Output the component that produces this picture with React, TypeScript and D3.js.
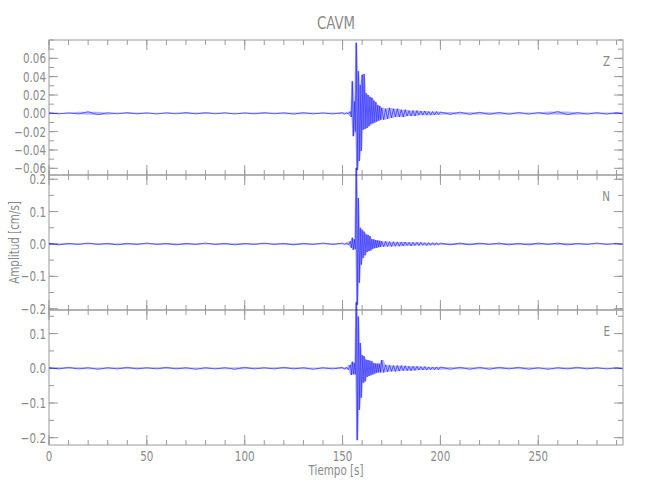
import React from 'react';
import * as d3 from 'd3';

// station + component names
const title = 'CAVM';
const componentNames = ['Z', 'N', 'E'];

// sample grid (s): coarse before the event, fine around it
const sampleTimes = [
  ...d3.range(0, 150, 5),
  ...d3.range(150, 154, 1),
  ...d3.range(154, 170, 0.5),
  ...d3.range(170, 200, 1),
  ...d3.range(200, 295, 5),
  293,
];

// velocity extremes, cm/s
const zValues = [
  0.0005, -0.0007, 0.0006, -0.0008, 0.0018, -0.0015, 0.0007, -0.0006, 0.0008, -0.0007,
  0.0006, -0.0008, 0.0007, -0.0006, 0.0009, -0.0007, 0.0008, -0.0006, 0.0007, -0.0008,
  0.0006, -0.0007, 0.0008, -0.0006, 0.0007, -0.0009, 0.0008, -0.0007, 0.0006, -0.0008,
  0.0008, -0.0009, 0.0007, -0.001,
  0.002, -0.004, 0.035, -0.025, 0.013, -0.02, 0.077, -0.062, 0.046, -0.052,
  0.031, -0.041, 0.042, -0.018, 0.043, -0.017, 0.022, -0.016, 0.02, -0.014,
  0.018, -0.012, 0.017, -0.011, 0.014, -0.01, 0.012, -0.009, 0.009, -0.008,
  0.008, -0.007,
  0.006, -0.007, 0.005, -0.006, 0.006, -0.005, 0.005, -0.004, 0.005, -0.004,
  0.004, -0.004, 0.004, -0.003, 0.003, -0.003, 0.003, -0.003, 0.003, -0.002,
  0.0025, -0.002, 0.0025, -0.002, 0.002, -0.002, 0.002, -0.0018, 0.002, -0.0015,
  0.0015, -0.0012, 0.0013, -0.0012, 0.0011, -0.0012, 0.001, -0.0011, 0.001, -0.001,
  0.0009, -0.001, 0.002, -0.0016, 0.0009, -0.0009, 0.0008, -0.0009, 0.0008, -0.0007,
];

const nValues = [
  0.002, -0.003, 0.002, -0.002, 0.003, -0.002, 0.002, -0.003, 0.002, -0.002,
  0.003, -0.002, 0.002, -0.003, 0.002, -0.002, 0.003, -0.002, 0.002, -0.003,
  0.002, -0.002, 0.003, -0.002, 0.002, -0.003, 0.002, -0.002, 0.003, -0.002,
  0.003, -0.002, 0.003, -0.003,
  0.008, -0.012, 0.019, -0.018, 0.014, -0.016, 0.235, -0.188, 0.142, -0.12,
  0.05, -0.064, 0.044, -0.043, 0.038, -0.035, 0.03, -0.025, 0.028, -0.022,
  0.024, -0.02, 0.015, -0.015, 0.014, -0.013, 0.012, -0.012, 0.011, -0.01,
  0.01, -0.009,
  0.008, -0.009, 0.008, -0.008, 0.007, -0.008, 0.007, -0.007, 0.006, -0.007,
  0.006, -0.006, 0.006, -0.005, 0.005, -0.006, 0.005, -0.005, 0.005, -0.005,
  0.005, -0.004, 0.004, -0.005, 0.004, -0.004, 0.004, -0.004, 0.004, -0.003,
  0.003, -0.003, 0.003, -0.003, 0.003, -0.002, 0.003, -0.003, 0.002, -0.003,
  0.003, -0.002, 0.003, -0.003, 0.002, -0.002, 0.003, -0.002, 0.002, -0.002,
];

const eValues = [
  0.002, -0.002, 0.003, -0.002, 0.002, -0.003, 0.002, -0.002, 0.003, -0.002,
  0.002, -0.002, 0.003, -0.002, 0.002, -0.003, 0.002, -0.002, 0.002, -0.003,
  0.003, -0.002, 0.002, -0.002, 0.003, -0.002, 0.002, -0.003, 0.002, -0.002,
  0.003, -0.003, 0.003, -0.004,
  0.01, -0.019, 0.019, -0.017, 0.016, -0.018, 0.19, -0.207, 0.149, -0.12,
  0.073, -0.085, 0.038, -0.042, 0.035, -0.038, 0.025, -0.025, 0.024, -0.022,
  0.022, -0.02, 0.02, -0.018, 0.015, -0.015, 0.014, -0.013, 0.014, -0.012,
  0.013, -0.012,
  0.024, -0.012, 0.01, -0.01, 0.009, -0.009, 0.008, -0.009, 0.008, -0.008,
  0.008, -0.007, 0.007, -0.007, 0.006, -0.007, 0.006, -0.006, 0.006, -0.005,
  0.005, -0.005, 0.005, -0.005, 0.004, -0.004, 0.004, -0.004, 0.004, -0.004,
  0.004, -0.003, 0.003, -0.003, 0.003, -0.003, 0.003, -0.002, 0.003, -0.003,
  0.002, -0.003, 0.002, -0.002, 0.003, -0.002, 0.002, -0.002, 0.002, -0.002,
];

const seriesValues = [zValues, nValues, eValues];

// y ranges and ticks per panel
const yDomains: [number, number][] = [[-0.0673, 0.08], [-0.204, 0.213], [-0.221, 0.168]];
const yMajorTicks = [
  [-0.06, -0.04, -0.02, 0, 0.02, 0.04, 0.06],
  [-0.2, -0.1, 0, 0.1, 0.2],
  [-0.2, -0.1, 0, 0.1],
];
const yMinorStep = [0.01, 0.05, 0.05];
const yTickFormat = ['.2f', '.1f', '.1f'];

const xMax = 293.3;
const xMajorTicks = [0, 50, 100, 150, 200, 250];
const xMinorStep = 10;

const W = 650;
const H = 500;
const left = 49;
const right = 623;
const panelTop = 40;
const panelH = 135;

const axisColor = '#9a9a9a';
const textColor = '#8a8a8a';
const font = '"DejaVu Sans", sans-serif';

const fmtNum = (f: string) => {
  const base = d3.format(f);
  return (v: number) => base(Math.abs(v) < 1e-9 ? 0 : v).replace('-', '\u2212');
};

// squeezed labels like the original plot font
const Label = ({ x, y, anchor = 'middle', size = 13, rotate = 0, children }:
  { x: number; y: number; anchor?: string; size?: number; rotate?: number; children: React.ReactNode }) => (
  <text
    transform={`translate(${x},${y}) rotate(${rotate}) scale(0.74,1)`}
    textAnchor={anchor}
    fontSize={size}
    fill={textColor}
    fontFamily={font}
  >
    {children}
  </text>
);

const Panel = ({ idx }: { idx: number }) => {
  const top = panelTop + idx * panelH;
  const bottom = top + panelH;
  const x = d3.scaleLinear().domain([0, xMax]).range([left, right]);
  const y = d3.scaleLinear().domain(yDomains[idx]).range([bottom, top]);
  const values = seriesValues[idx];
  const line = d3.line<number>()
    .x((_d, i) => x(sampleTimes[i]))
    .y((d) => y(d));
  // band between neighbouring extremes, so the dense trace reads as filled
  const band = d3.area<number>()
    .x((_d, i) => x(sampleTimes[i]))
    .y0((_d, i) => y(Math.min(...values.slice(Math.max(0, i - 1), i + 2))))
    .y1((_d, i) => y(Math.max(...values.slice(Math.max(0, i - 1), i + 2))));
  const [y0, y1] = yDomains[idx];
  const minorY = d3.range(Math.ceil(y0 / yMinorStep[idx]), Math.floor(y1 / yMinorStep[idx]) + 1)
    .map((k) => k * yMinorStep[idx]);
  const minorX = d3.range(0, xMax, xMinorStep);
  const fmt = fmtNum(yTickFormat[idx]);
  const showX = idx === 2;

  return (
    <g>
      <rect x={left} y={top} width={right - left} height={panelH} fill="none" stroke={axisColor} strokeWidth={1} />
      {minorX.map((t) => (
        <g key={'mx' + t} stroke={axisColor}>
          <line x1={x(t)} x2={x(t)} y1={top} y2={top + 5} />
          <line x1={x(t)} x2={x(t)} y1={bottom} y2={bottom - 5} />
        </g>
      ))}
      {xMajorTicks.map((t) => (
        <g key={'Mx' + t} stroke={axisColor}>
          <line x1={x(t)} x2={x(t)} y1={top} y2={top + 10} />
          <line x1={x(t)} x2={x(t)} y1={bottom} y2={bottom - 10} />
        </g>
      ))}
      {minorY.map((v) => (
        <g key={'my' + v} stroke={axisColor}>
          <line x1={left} x2={left + 5} y1={y(v)} y2={y(v)} />
          <line x1={right} x2={right - 5} y1={y(v)} y2={y(v)} />
        </g>
      ))}
      {yMajorTicks[idx].map((v) => (
        <g key={'My' + v}>
          <line x1={left} x2={left + 9} y1={y(v)} y2={y(v)} stroke={axisColor} />
          <line x1={right} x2={right - 9} y1={y(v)} y2={y(v)} stroke={axisColor} />
          <Label x={left - 3} y={y(v) + 5} anchor="end" size={14}>{fmt(v)}</Label>
        </g>
      ))}
      {showX && xMajorTicks.map((t) => (
        <Label key={'xl' + t} x={x(t)} y={bottom + 16} size={14}>{t}</Label>
      ))}
      <path d={band(values) || ''} fill="#0000ff" fillOpacity={0.3} stroke="none" />
      <path d={line(values) || ''} fill="none" stroke="#0000ff" strokeWidth={0.6} strokeOpacity={0.85} />
      <Label x={right - 13} y={top + 26} anchor="end" size={14}>{componentNames[idx]}</Label>
    </g>
  );
};

export default function App() {
  return (
    <svg width={W} height={H} style={{ position: 'absolute', left: 0, top: 0, background: '#fff' }}>
      <rect width={W} height={H} fill="#fff" />
      <Label x={(left + right) / 2} y={29} size={18}>{title}</Label>
      {componentNames.map((_c, i) => <Panel key={i} idx={i} />)}
      <Label x={(left + right) / 2} y={475} size={14}>Tiempo  [s]</Label>
      <Label x={19} y={panelTop + 1.5 * panelH} size={14} rotate={-90}>Amplitud  [cm/s]</Label>
    </svg>
  );
}
